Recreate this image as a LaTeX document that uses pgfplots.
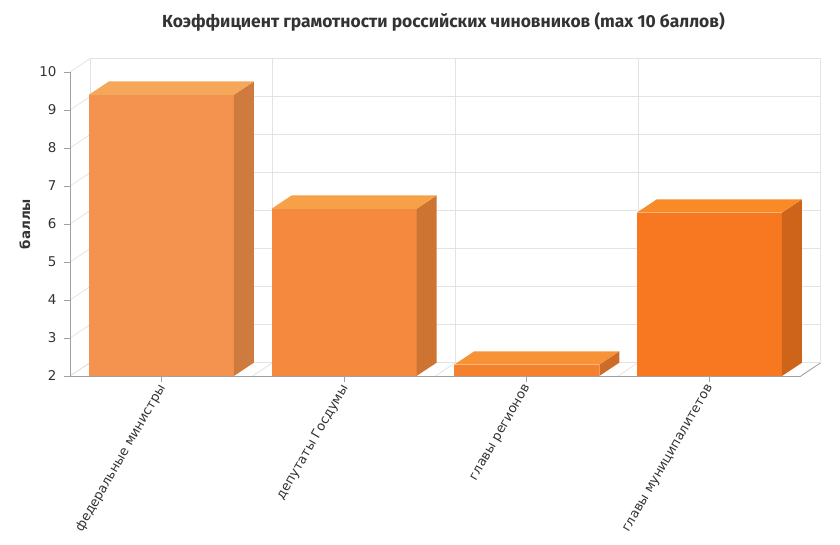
\documentclass[border=0pt]{standalone}
\usepackage{pgfplots}
\pgfplotsset{compat=1.18}
\usepackage{fontspec}
\setmainfont{DejaVu Sans}
\newfontfamily\titlefont{Fira Sans}
\definecolor{gridc}{HTML}{E3E3E3}
\definecolor{axisc}{HTML}{A0A0A0}
\definecolor{textc}{HTML}{333333}
\definecolor{fa}{HTML}{F3934F}\definecolor{sa}{HTML}{CF7B40}\definecolor{ta}{HTML}{F5A85A}
\definecolor{fb}{HTML}{F58A3E}\definecolor{sb}{HTML}{CE7432}\definecolor{tb}{HTML}{F6A048}
\definecolor{fc}{HTML}{F5802E}\definecolor{sc}{HTML}{CD6C26}\definecolor{tc}{HTML}{F79236}
\definecolor{fd}{HTML}{F77820}\definecolor{sd}{HTML}{CE6419}\definecolor{td}{HTML}{F88A28}
\begin{document}
\begin{tikzpicture}[x=1bp,y=1bp]
\begin{axis}[
  x={(182.7bp,0bp)}, y={(20bp,13.3bp)}, z={(0bp,38bp)},
  xmin=-0.5, xmax=3.5, ymin=0, ymax=1, zmin=2, zmax=10,
  axis lines*=left,
  xtick={0,1,2,3},
  xticklabels={федеральные министры, депутаты Госдумы, главы регионов, главы муниципалитетов},
  minor xtick={-0.5,0.5,1.5,2.5,3.5},
  xminorgrids=true, xmajorgrids=false,
  ytick=\empty,
  ztick={2,3,...,10}, zmajorgrids=true,
  grid style={draw=gridc, line width=0.8bp},
  minor grid style={draw=gridc, line width=0.8bp},
  major tick length=0pt, minor tick length=0pt,
  tick style={draw=none},
  axis line style={draw=axisc, line width=0.8bp},
  clip=false,
  /pgf/number format/assume math mode=true,
  x tick label style={xshift=3bp, yshift=-7bp, rotate=60, anchor=east, font=\fontsize{13}{15}\selectfont, text=textc},
  z tick label style={anchor=east, xshift=-10bp, font=\fontsize{13.5}{15}\selectfont, text=textc},
]
% bar 1
\addplot3[fill=fa, draw=none] coordinates {(-0.397,0,2) (0.397,0,2) (0.397,0,9.4) (-0.397,0,9.4)};
\addplot3[fill=sa, draw=none] coordinates {(0.397,0,2) (0.397,1,2) (0.397,1,9.4) (0.397,0,9.4)};
\addplot3[fill=ta, draw=none] coordinates {(-0.397,0,9.4) (0.397,0,9.4) (0.397,1,9.4) (-0.397,1,9.4)};
% bar 2
\addplot3[fill=fb, draw=none] coordinates {(0.603,0,2) (1.397,0,2) (1.397,0,6.4) (0.603,0,6.4)};
\addplot3[fill=sb, draw=none] coordinates {(1.397,0,2) (1.397,1,2) (1.397,1,6.4) (1.397,0,6.4)};
\addplot3[fill=tb, draw=none] coordinates {(0.603,0,6.4) (1.397,0,6.4) (1.397,1,6.4) (0.603,1,6.4)};
% bar 3
\addplot3[fill=fc, draw=none] coordinates {(1.603,0,2) (2.397,0,2) (2.397,0,2.3) (1.603,0,2.3)};
\addplot3[fill=sc, draw=none] coordinates {(2.397,0,2) (2.397,1,2) (2.397,1,2.3) (2.397,0,2.3)};
\addplot3[fill=tc, draw=none] coordinates {(1.603,0,2.3) (2.397,0,2.3) (2.397,1,2.3) (1.603,1,2.3)};
% bar 4
\addplot3[fill=fd, draw=none] coordinates {(2.603,0,2) (3.397,0,2) (3.397,0,6.3) (2.603,0,6.3)};
\addplot3[fill=sd, draw=none] coordinates {(3.397,0,2) (3.397,1,2) (3.397,1,6.3) (3.397,0,6.3)};
\addplot3[fill=td, draw=none] coordinates {(2.603,0,6.3) (3.397,0,6.3) (3.397,1,6.3) (2.603,1,6.3)};
\coordinate (P) at (axis cs:-0.5,0,2);
\end{axis}
\foreach \k in {0,...,8} {\draw[axisc, line width=0.8bp] ([shift={(-6,38*\k)}]P) -- ++(6,0);}
\foreach \i in {0,...,3} {\draw[axisc, line width=0.8bp] ([shift={(91.35+182.7*\i,0)}]P) -- ++(0,-6);}
\node[text=textc, font=\titlefont\bfseries\fontsize{17.5}{20}\selectfont] at ([shift={(373.5,354)}]P) {Коэффициент грамотности российских чиновников (max 10 баллов)};
\node[rotate=90, text=textc, font=\bfseries\fontsize{13.5}{16}\selectfont] at ([shift={(-45,152)}]P) {баллы};
\pgfresetboundingbox
\path[use as bounding box] ([shift={(-70,-169)}]P) rectangle ([shift={(770,376)}]P);
\end{tikzpicture}
\end{document}
